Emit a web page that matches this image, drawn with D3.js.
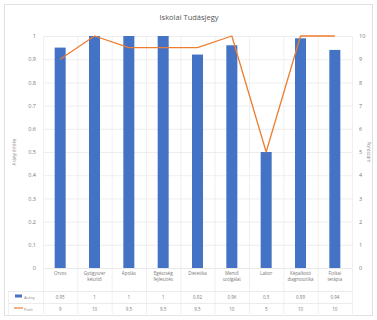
<!DOCTYPE html>
<html>
<head>
<meta charset="utf-8">
<script src="https://cdn.jsdelivr.net/npm/d3@7"></script>
<style>
  body { margin: 0; background: #fff; }
  svg { display: block; font-family: "Open Sans", "Liberation Sans", sans-serif; }
</style>
</head>
<body>
<svg id="chart" width="377" height="320"></svg>
<script>
// Categories (two-line labels split on "\n")
const categories = ["Orvos", "Gyógyszer\nkészítő", "Ápolás", "Egészség\nfejlesztés", "Dietetika", "Mentő\nszolgálat", "Labor", "Képalkotó\ndiagnosztika", "Fizikai\nterápia"];
// Bar series (left axis) and line series (right axis)
const seriesBarName = "Arány";
const seriesBar = [0.95, 1, 1, 1, 0.92, 0.96, 0.5, 0.99, 0.94];
const seriesLineName = "Pont";
const seriesLine = [9, 10, 9.5, 9.5, 9.5, 10, 5, 10, 10];
const leftTicks = [0, 0.1, 0.2, 0.3, 0.4, 0.5, 0.6, 0.7, 0.8, 0.9, 1];
const rightTicks = [0, 1, 2, 3, 4, 5, 6, 7, 8, 9, 10];
const titleText = "Iskolai Tudásjegy";
const leftTitle = "Arány értéke";
const rightTitle = "Pontszám";

const svg = d3.select("#chart");
const W = 377, H = 320;
const m = { left: 43, right: 352, top: 36, bottom: 268 };
const blue = "#4472c4", orange = "#ed7d31";

// chart frame
svg.append("rect").attr("x", 4.5).attr("y", 4.5).attr("width", W - 9).attr("height", H - 9)
  .attr("fill", "#fff").attr("stroke", "#e0e0e0");

svg.append("text").attr("x", 189).attr("y", 20).attr("text-anchor", "middle")
  .attr("font-size", 7.5).attr("fill", "#555").text(titleText);

const x = d3.scaleBand().domain(categories).range([m.left, m.right]).paddingInner(0).paddingOuter(0);
const yL = d3.scaleLinear().domain([0, 1]).range([m.bottom, m.top]);
const yR = d3.scaleLinear().domain([0, 10]).range([m.bottom, m.top]);

// horizontal gridlines
svg.append("g").selectAll("line").data(leftTicks).join("line")
  .attr("x1", m.left).attr("x2", m.right)
  .attr("y1", d => yL(d) + 0.5).attr("y2", d => yL(d) + 0.5)
  .attr("stroke", "#eaeaea").attr("stroke-width", 0.8);

// vertical category separators (data-table style)
const seps = categories.map(c => x(c)).concat([m.right]);
svg.append("g").selectAll("line").data(seps).join("line")
  .attr("x1", d => d + 0.5).attr("x2", d => d + 0.5)
  .attr("y1", m.top).attr("y2", m.bottom + 46)
  .attr("stroke", "#ececec").attr("stroke-width", 0.8);

// left axis
const axL = svg.append("g").attr("transform", `translate(${m.left},0)`)
  .call(d3.axisLeft(yL).tickValues(leftTicks).tickFormat(d3.format("~g")).tickSize(0).tickPadding(7));
axL.select(".domain").remove();
axL.selectAll("text").attr("font-size", 5.5).attr("fill", "#777").attr("font-family", "Open Sans, sans-serif");

// right axis
const axR = svg.append("g").attr("transform", `translate(${m.right},0)`)
  .call(d3.axisRight(yR).tickValues(rightTicks).tickSize(0).tickPadding(7));
axR.select(".domain").remove();
axR.selectAll("text").attr("font-size", 5.5).attr("fill", "#777").attr("font-family", "Open Sans, sans-serif");

// axis titles
svg.append("text").attr("transform", `translate(16,${(m.top + m.bottom) / 2}) rotate(-90)`)
  .attr("text-anchor", "middle").attr("font-size", 4.5).attr("fill", "#888").text(leftTitle);
svg.append("text").attr("transform", `translate(367,${(m.top + m.bottom) / 2}) rotate(90)`)
  .attr("text-anchor", "middle").attr("font-size", 4.5).attr("fill", "#888").text(rightTitle);

// bars
const bw = 11;
svg.append("g").selectAll("rect").data(seriesBar).join("rect")
  .attr("x", (d, i) => x(categories[i]) + x.bandwidth() / 2 - bw / 2)
  .attr("width", bw)
  .attr("y", d => yL(d))
  .attr("height", d => yL(0) - yL(d))
  .attr("fill", blue);

// line
const line = d3.line()
  .x((d, i) => x(categories[i]) + x.bandwidth() / 2)
  .y(d => yR(d));
svg.append("path").datum(seriesLine).attr("d", line)
  .attr("fill", "none").attr("stroke", orange).attr("stroke-width", 1.3).attr("stroke-linejoin", "round");

// category labels
const lab = svg.append("g");
categories.forEach((c, i) => {
  const lines = c.split("\n");
  const t = lab.append("text").attr("x", x(c) + x.bandwidth() / 2).attr("y", 275)
    .attr("text-anchor", "middle").attr("font-size", 4.5).attr("fill", "#777");
  lines.forEach((s, k) => t.append("tspan").attr("x", x(c) + x.bandwidth() / 2).attr("dy", k === 0 ? 0 : 6).text(s));
});

// data table rows
const rowY = [297, 309];
[m.bottom, 291, 303, 315].forEach(yy => {
  svg.append("line").attr("x1", yy === m.bottom ? m.left : 8).attr("x2", m.right)
    .attr("y1", yy + 0.5).attr("y2", yy + 0.5).attr("stroke", "#e6e6e6").attr("stroke-width", 0.8);
});
svg.append("line").attr("x1", 8.5).attr("x2", 8.5).attr("y1", 291).attr("y2", 315).attr("stroke", "#ececec").attr("stroke-width", 0.8);

// legend keys
svg.append("rect").attr("x", 15).attr("y", rowY[0] - 2.5).attr("width", 7).attr("height", 3).attr("fill", blue);
svg.append("text").attr("x", 24).attr("y", rowY[0] + 1.5).attr("font-size", 4).attr("fill", "#888").text(seriesBarName);
svg.append("line").attr("x1", 14).attr("x2", 23).attr("y1", rowY[1] - 1).attr("y2", rowY[1] - 1).attr("stroke", orange).attr("stroke-width", 1.2);
svg.append("text").attr("x", 24).attr("y", rowY[1] + 1.5).attr("font-size", 4).attr("fill", "#888").text(seriesLineName);

const fmt = d3.format("~g");
[seriesBar, seriesLine].forEach((arr, r) => {
  svg.append("g").selectAll("text").data(arr).join("text")
    .attr("x", (d, i) => x(categories[i]) + x.bandwidth() / 2)
    .attr("y", rowY[r] + 1.5)
    .attr("text-anchor", "middle").attr("font-size", 4.5).attr("fill", "#777")
    .text(d => fmt(d));
});
</script>
</body>
</html>
